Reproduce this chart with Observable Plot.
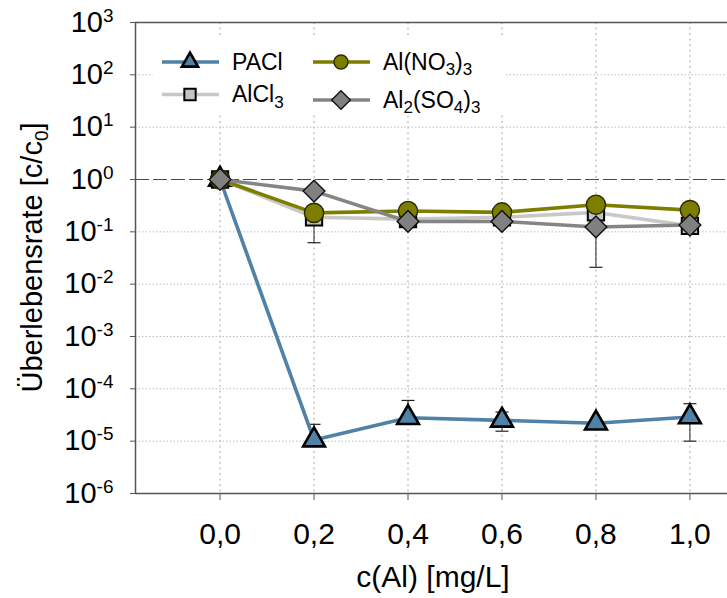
<!DOCTYPE html>
<html><head><meta charset="utf-8">
<script src="https://cdn.jsdelivr.net/npm/d3@7"></script>
<script src="https://cdn.jsdelivr.net/npm/@observablehq/plot@0.6"></script>
<style>
body{margin:0;background:#fff;font-family:"Liberation Sans",Arial,sans-serif;}
#chart{position:relative;width:727px;height:598px;}
</style>
</head><body><div id="chart"></div>
<script>
// ---- data ----
const doses = [0.0, 0.2, 0.4, 0.6, 0.8, 1.0];
const paclValues  = [1.0, 1.05e-5, 2.8e-5, 2.5e-5, 2.2e-5, 2.9e-5];
const alcl3Values = [1.0, 0.19, 0.175, 0.19, 0.235, 0.13];
const alno3Values = [1.0, 0.23, 0.25, 0.235, 0.33, 0.26];
const also4Values = [1.0, 0.6, 0.158, 0.158, 0.124, 0.135];

const errDose = [0.2, 0.4, 0.6, 1.0, 0.2, 0.8];
const errLow  = [1.0e-5, 2.6e-5, 1.55e-5, 1.0e-5, 0.062, 0.021];
const errHigh = [2.1e-5, 6.0e-5, 3.6e-5, 5.2e-5, 0.25, 0.2];

const yTicks = [1e3, 1e2, 1e1, 1e0, 1e-1, 1e-2, 1e-3, 1e-4, 1e-5, 1e-6];
const xTicks = [0.0, 0.2, 0.4, 0.6, 0.8, 1.0];
const xLabel = "c(Al) [mg/L]";

// ---- styles ----
const series = [
  {name: "PACl", values: paclValues, line: "#4f82a6", fill: "#4f82a6", stroke: "#000", sw: 2.6, symbol: "triangle", r: 8.1, lr: 6.0},
  {name: "AlCl3", values: alcl3Values, line: "#c8c8c8", fill: "#c4c4c4", stroke: "#000", sw: 2, symbol: "square", r: 9.2, lr: 6.4},
  {name: "Al(NO3)3", values: alno3Values, line: "#7d7d00", fill: "#7d7d00", stroke: "#2a2a00", sw: 1.4, symbol: "circle", r: 9.6, lr: 7.0},
  {name: "Al2(SO4)3", values: also4Values, line: "#858585", fill: "#808080", stroke: "#111", sw: 1.4, symbol: "diamond2", r: 9.8, lr: 8.4}
];

const errRows = errDose.map((x, i) => ({x, lo: errLow[i], hi: errHigh[i]}));
const capSymbol = {draw(ctx) { ctx.moveTo(-6.5, 0); ctx.lineTo(6.5, 0); }};

const seriesMarks = [];
for (const s of series) {
  const rows = doses.map((x, i) => ({x, y: s.values[i]}));
  seriesMarks.push(Plot.line(rows, {x: "x", y: "y", stroke: s.line, strokeWidth: 3.6}));
  seriesMarks.push(Plot.dot(rows, {x: "x", y: "y", symbol: s.symbol, r: s.r, fill: s.fill, stroke: s.stroke, strokeWidth: s.sw}));
}

const xDomain = [-0.18, 1.08];
const svg = Plot.plot({
  width: 727, height: 598,
  marginLeft: 135, marginRight: 0, marginTop: 22, marginBottom: 105,
  style: {fontFamily: '"Liberation Sans", Arial, sans-serif', background: "#fff", color: "#000"},
  x: {domain: xDomain, label: null},
  y: {type: "log", domain: [1e-6, 1e3], label: null},
  marks: [
    Plot.ruleY(yTicks.filter(v => v !== 1 && v !== 1e3 && v !== 1e-6), {stroke: "#bdbdbd", strokeDasharray: "1.5,2", strokeWidth: 1}),
    Plot.ruleX(xTicks, {stroke: "#c0c0c0", strokeDasharray: "2,3.5", strokeWidth: 1.4}),
    Plot.ruleY([1], {stroke: "#4a4a4a", strokeDasharray: "14,4", strokeWidth: 1.2}),
    Plot.ruleY([1e3, 1e-6], {stroke: "#555", strokeWidth: 1.5}),
    Plot.ruleX([xDomain[0]], {stroke: "#555", strokeWidth: 1.5}),
    Plot.ruleX(errRows, {x: "x", y1: "lo", y2: "hi", stroke: "#222", strokeWidth: 1}),
    Plot.dot(errRows, {x: "x", y: "lo", symbol: capSymbol, stroke: "#222", strokeWidth: 1.2, fill: "none"}),
    Plot.dot(errRows, {x: "x", y: "hi", symbol: capSymbol, stroke: "#222", strokeWidth: 1.2, fill: "none"}),
    ...seriesMarks,
    Plot.axisY({ticks: yTicks, tickSize: 5, tickPadding: 17, stroke: "#555", fontSize: 29,
      tickFormat: d => String(Math.round(Math.log10(d))), label: null}),
    Plot.axisX({ticks: xTicks, tickSize: 7, tickPadding: 22, stroke: "#555", fontSize: 30,
      tickFormat: d => d.toFixed(1).replace(".", ","), label: null})
  ]
});
document.getElementById("chart").appendChild(svg);

const S = d3.select(svg);
// superscript exponents on y tick labels
S.selectAll('g[aria-label="y-axis tick label"] text').each(function() {
  const e = this.textContent;
  const t = d3.select(this);
  t.text("10");
  t.append("tspan").attr("dy", "-10").attr("font-size", "19px").text(e);
});

// axis titles
const yt = S.append("text").attr("transform", "translate(42,257.5) rotate(-90)")
  .attr("text-anchor", "middle").attr("font-size", 29).attr("fill", "#000");
yt.append("tspan").text("Überlebensrate [c/c");
yt.append("tspan").attr("dy", "6").attr("font-size", "19px").text("0");
yt.append("tspan").attr("dy", "-6").text("]");
S.append("text").attr("x", 433).attr("y", 587).attr("text-anchor", "middle")
  .attr("font-size", 30).attr("fill", "#000").text(xLabel);

// legend
const L = S.append("g").attr("aria-label", "legend").attr("text-anchor", "start");
L.append("rect").attr("x", 153).attr("y", 37).attr("width", 352).attr("height", 76).attr("fill", "#fff");
const legendPos = [
  {x: 162, y: 62}, {x: 162, y: 94.5}, {x: 313, y: 62}, {x: 313, y: 100}
];
const legendText = [
  [["PACl", 0]],
  [["AlCl", 0], ["3", 1]],
  [["Al(NO", 0], ["3", 1], [")", 0], ["3", 1]],
  [["Al", 0], ["2", 1], ["(SO", 0], ["4", 1], [")", 0], ["3", 1]]
];
const symMap = {triangle: d3.symbolTriangle, square: d3.symbolSquare, circle: d3.symbolCircle, diamond2: d3.symbolDiamond2};
series.forEach((s, i) => {
  const p = legendPos[i];
  L.append("line").attr("x1", p.x).attr("x2", p.x + 57).attr("y1", p.y).attr("y2", p.y)
    .attr("stroke", s.line).attr("stroke-width", 3.6);
  L.append("path").attr("transform", `translate(${p.x + 28},${p.y})`)
    .attr("d", d3.symbol(symMap[s.symbol], s.lr * s.lr * Math.PI)())
    .attr("fill", s.fill).attr("stroke", s.stroke).attr("stroke-width", s.sw);
  const t = L.append("text").attr("x", p.x + 70).attr("y", p.y + 7.5).attr("font-size", 23).attr("fill", "#000");
  let sub = false;
  for (const [str, isSub] of legendText[i]) {
    const sp = t.append("tspan").text(str);
    if (isSub) {
      sp.attr("font-size", "17px");
      if (!sub) { sp.attr("dy", "5.5"); sub = true; }
    } else if (sub) { sp.attr("dy", "-5.5"); sub = false; }
  }
});
</script>
</body></html>
